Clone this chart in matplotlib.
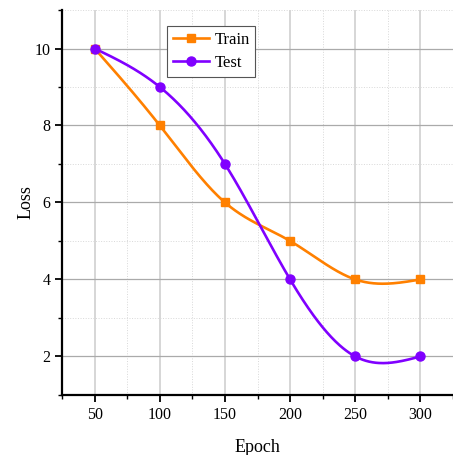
import numpy as np
import matplotlib.pyplot as plt
from matplotlib.ticker import MultipleLocator

# Dados do gráfico
epoch = [50, 100, 150, 200, 250, 300]
loss_train = [10, 8, 6, 5, 4, 4]
loss_test = [10, 9, 7, 4, 2, 2]


def spline(x, y, xs):
    # Spline cúbica natural (suavização da linha, como no Origin)
    x = np.asarray(x, float)
    y = np.asarray(y, float)
    n = len(x)
    h = np.diff(x)
    A = np.zeros((n, n))
    r = np.zeros(n)
    A[0, 0] = A[-1, -1] = 1
    for i in range(1, n - 1):
        A[i, i - 1] = h[i - 1]
        A[i, i] = 2 * (h[i - 1] + h[i])
        A[i, i + 1] = h[i]
        r[i] = 6 * ((y[i + 1] - y[i]) / h[i] - (y[i] - y[i - 1]) / h[i - 1])
    M = np.linalg.solve(A, r)
    k = np.clip(np.searchsorted(x, xs) - 1, 0, n - 2)
    t0 = x[k + 1] - xs
    t1 = xs - x[k]
    hk = h[k]
    return (M[k] * t0 ** 3 / (6 * hk) + M[k + 1] * t1 ** 3 / (6 * hk)
            + (y[k] / hk - M[k] * hk / 6) * t0 + (y[k + 1] / hk - M[k + 1] * hk / 6) * t1)


plt.rcParams['font.family'] = 'Liberation Serif'

fig = plt.figure(figsize=(4.53, 4.55), dpi=100)
ax = fig.add_axes([0.137, 0.132, 0.863, 0.846])

xs = np.linspace(epoch[0], epoch[-1], 300)
c_train = '#ff8000'
c_test = '#8000ff'

ax.plot(xs, spline(epoch, loss_train, xs), color=c_train, lw=1.9, zorder=3)
ax.plot(epoch, loss_train, 's', color=c_train, ms=5.5, zorder=4)
ax.plot(xs, spline(epoch, loss_test, xs), color=c_test, lw=1.9, zorder=3)
ax.plot(epoch, loss_test, 'o', color=c_test, ms=6.5, zorder=4)

# legenda com as duas séries
h1, = ax.plot([], [], '-s', color=c_train, lw=1.9, ms=5.5)
h2, = ax.plot([], [], '-o', color=c_test, lw=1.9, ms=6.5)
leg = ax.legend([h1, h2], ['Train', 'Test'], loc='upper left', bbox_to_anchor=(0.268, 0.958),
                fontsize=12, fancybox=False, edgecolor='#555555', framealpha=1,
                handlelength=2.2, handletextpad=0.3, borderpad=0.35, labelspacing=0.4,
                borderaxespad=0)
leg.get_frame().set_linewidth(0.8)

ax.set_xlim(25, 325)
ax.set_ylim(1, 11)
ax.xaxis.set_major_locator(MultipleLocator(50))
ax.xaxis.set_minor_locator(MultipleLocator(25))
ax.yaxis.set_major_locator(MultipleLocator(2))
ax.yaxis.set_minor_locator(MultipleLocator(1))

ax.grid(which='major', axis='y', color='#aaaaaa', lw=0.9)
ax.grid(which='major', axis='x', color='#d0d0d0', lw=1.2)
ax.grid(which='minor', color='#d8d8d8', lw=0.7, ls=':')

for s in ['top', 'right']:
    ax.spines[s].set_visible(False)
for s in ['left', 'bottom']:
    ax.spines[s].set_linewidth(1.6)

ax.tick_params(which='major', direction='out', length=5, width=1.3, labelsize=11.5)
ax.tick_params(which='minor', direction='out', length=3, width=1.0)

ax.set_xlabel('Epoch', fontsize=13, labelpad=12)
ax.set_ylabel('Loss', fontsize=13, labelpad=0)

plt.savefig('out.png', dpi=100)
